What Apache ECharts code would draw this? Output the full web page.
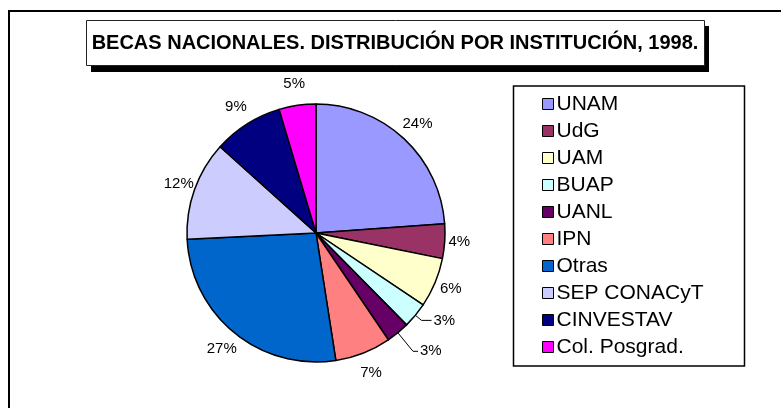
<!DOCTYPE html>
<html>
<head>
<meta charset="utf-8">
<script src="https://cdn.jsdelivr.net/npm/echarts@6/dist/echarts.min.js"></script>
<style>
html,body{margin:0;padding:0;background:#fff;}
#chart{width:781px;height:408px;}
</style>
</head>
<body>
<div id="chart"></div>
<script>
// Becas nacionales, distribución por institución (1998)
const instituciones = ['UNAM', 'UdG', 'UAM', 'BUAP', 'UANL', 'IPN', 'Otras', 'SEP CONACyT', 'CINVESTAV', 'Col. Posgrad.'];
const porcentajes = [23.8, 4.3, 6.2, 3.2, 2.9, 7.0, 26.6, 12.4, 8.7, 4.6];
const colores = ['#9999FF', '#993366', '#FFFFCC', '#CCFFFF', '#660066', '#FF8080', '#0066CC', '#CCCCFF', '#000080', '#FF00FF'];
const titulo = 'BECAS NACIONALES. DISTRIBUCIÓN POR INSTITUCIÓN, 1998.';

const FONT = 'Arial, "Liberation Sans", sans-serif';
const CX = 316, CY = 233, R = 129;

const chart = echarts.init(document.getElementById('chart'));

const total = porcentajes.reduce((a, b) => a + b, 0);

//angulo medio de cada rebanada (grados, 0 = derecha)
const midAngle = (i) => {
    let acc = 0;
    for (let k = 0; k < i; k++) acc += porcentajes[k];
    return 90 - 360 * (acc + porcentajes[i] / 2) / total;
};

//rebanadas chicas con linea guia
const guias = {
    'BUAP': {length: 8, length2: 10},
    'UANL': {length: 24, length2: 5},
};

const option = {
    animation: false,
    color: colores,
    title: {
        text: titulo,
        left: 395,
        top: 33,
        textAlign: 'center',
        padding: 0,
        textStyle: {
            fontFamily: FONT,
            fontSize: 20,
            fontWeight: 'bold',
            color: '#000',
            lineHeight: 20,
        },
    },
    legend: {
        orient: 'vertical',
        left: 542,
        top: 93,
        padding: 0,
        itemWidth: 11,
        itemHeight: 11,
        itemGap: 5,
        icon: 'rect',
        selectedMode: false,
        data: instituciones,
        itemStyle: {borderColor: '#000', borderWidth: 1},
        textStyle: {
            fontFamily: FONT,
            fontSize: 21,
            color: '#000',
            lineHeight: 22,
            padding: [0, 0, 0, -2],
        },
    },
    graphic: [
        //marco exterior
        {type: 'rect', shape: {x: 9, y: 11, width: 800, height: 500}, style: {fill: 'none', stroke: '#000', lineWidth: 2}},
        //sombra y caja del titulo
        {type: 'rect', shape: {x: 91, y: 26, width: 618, height: 46}, style: {fill: '#000'}},
        {type: 'rect', shape: {x: 86.5, y: 20.5, width: 618, height: 45}, style: {fill: '#fff', stroke: '#222', lineWidth: 1}},
        //caja de la leyenda
        {type: 'rect', shape: {x: 513.5, y: 86, width: 231, height: 280}, style: {fill: '#fff', stroke: '#000', lineWidth: 1.5}},
    ],
    series: [
        {
            type: 'pie',
            center: [CX, CY],
            radius: R,
            startAngle: 90,
            clockwise: true,
            avoidLabelOverlap: false,
            emphasis: {disabled: true},
            itemStyle: {borderColor: '#000', borderWidth: 1.5},
            label: {
                show: true,
                position: 'outside',
                fontFamily: FONT,
                fontSize: 15,
                color: '#000',
                distanceToLabelLine: 2,
                formatter: p => Math.round(p.percent) + '%',
            },
            labelLine: {
                smooth: false,
                lineStyle: {color: '#000', width: 1},
            },
            labelLayout: p => {
                const name = instituciones[p.dataIndex];
                if (guias[name]) {
                    return {};
                }
                const a = midAngle(p.dataIndex) * Math.PI / 180;
                const d = R + 14 + 8 * Math.abs(Math.sin(a));
                return {
                    x: CX + d * Math.cos(a),
                    y: CY - d * Math.sin(a),
                    align: 'center',
                    verticalAlign: 'middle',
                };
            },
            data: instituciones.map((name, i) => ({
                name: name,
                value: porcentajes[i],
                labelLine: guias[name] ? {show: true, length: guias[name].length, length2: guias[name].length2} : {show: false},
            })),
        },
    ],
};

chart.setOption(option);
</script>
</body>
</html>
